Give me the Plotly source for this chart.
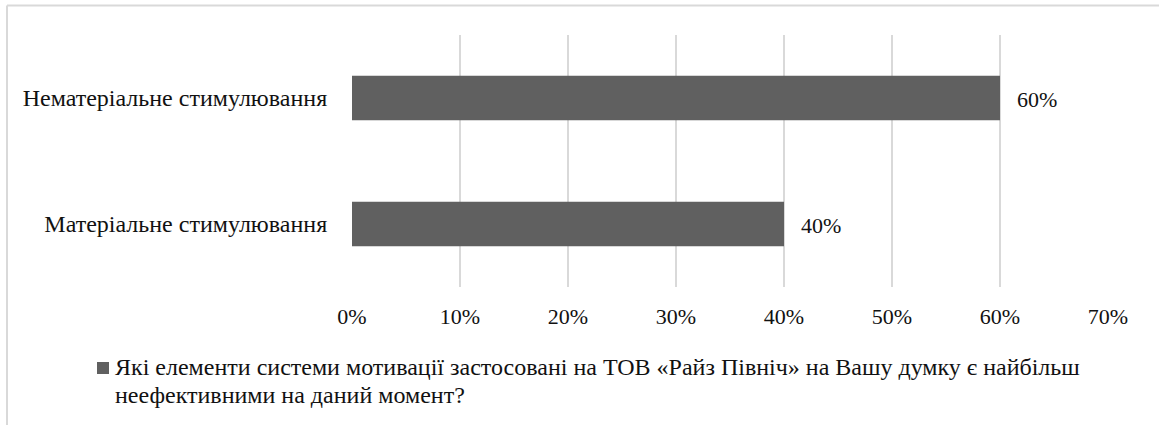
import plotly.graph_objects as go

# Survey answers: share of respondents per incentive type
categories = ["Матеріальне стимулювання", "Нематеріальне стимулювання"]
shares = [0.40, 0.60]
tick_values = [0, 0.1, 0.2, 0.3, 0.4, 0.5, 0.6, 0.7]
tick_labels = ["0%", "10%", "20%", "30%", "40%", "50%", "60%", "70%"]
series_lines = [
    "Які елементи системи мотивації застосовані на ТОВ «Райз Північ» на Вашу думку є найбільш",
    "неефективними на даний момент?",
]

W, H = 1159, 425
L, R, T, B = 352, 51, 35, 138
pw, ph = W - L - R, H - T - B

FONT = "Liberation Serif"
TXT = "#111111"
GRID = "#d9d9d9"
BAR = "#606060"


def px_x(px):
    return (px - L) / pw


def px_y(py):
    return 1 - (py - T) / ph


fig = go.Figure()
fig.add_trace(go.Bar(
    y=categories, x=shares, orientation="h",
    name=" ".join(series_lines),
    marker=dict(color=BAR, line=dict(width=0)),
    width=0.355,
    showlegend=False,
))

# value labels to the right of each bar
for c, v in zip(categories, shares):
    fig.add_annotation(x=v, y=c, xref="x", yref="y", text=f"{v:.0%}",
                       showarrow=False, xanchor="left", xshift=15, yshift=-1,
                       font=dict(family=FONT, size=22, color=TXT))

# series key below the axis: swatch plus two-line caption
fig.add_shape(type="rect", xref="paper", yref="paper",
              x0=px_x(97), x1=px_x(109), y0=px_y(374), y1=px_y(362),
              fillcolor=BAR, line=dict(width=0))
for i, line in enumerate(series_lines):
    fig.add_annotation(x=px_x(113), y=px_y(367 + 28 * i), xref="paper", yref="paper",
                       text=line, showarrow=False, xanchor="left", yanchor="middle",
                       font=dict(family=FONT, size=24, color=TXT))

# chart frame (top and left edges)
fig.add_shape(type="line", xref="paper", yref="paper",
              x0=px_x(7), x1=px_x(1165), y0=px_y(5.5), y1=px_y(5.5),
              line=dict(color=GRID, width=2))
fig.add_shape(type="line", xref="paper", yref="paper",
              x0=px_x(7), x1=px_x(7), y0=px_y(5.5), y1=px_y(430),
              line=dict(color=GRID, width=2))

fig.update_layout(
    width=W, height=H,
    margin=dict(l=L, r=R, t=T, b=B, pad=0),
    paper_bgcolor="white", plot_bgcolor="white",
    font=dict(family=FONT, size=22, color=TXT),
    xaxis=dict(range=[0, 0.7], tickvals=tick_values, ticktext=tick_labels,
               showgrid=True, gridcolor=GRID, gridwidth=2, zeroline=False,
               showline=False, ticks="outside", ticklen=10,
               tickcolor="rgba(0,0,0,0)", tickfont=dict(family=FONT, size=22)),
    yaxis=dict(showgrid=False, zeroline=False, showline=False,
               ticks="outside", ticklen=19, tickcolor="rgba(0,0,0,0)",
               tickfont=dict(family=FONT, size=24)),
    bargap=0.645,
    showlegend=False,
)

fig.write_html("out.html")
